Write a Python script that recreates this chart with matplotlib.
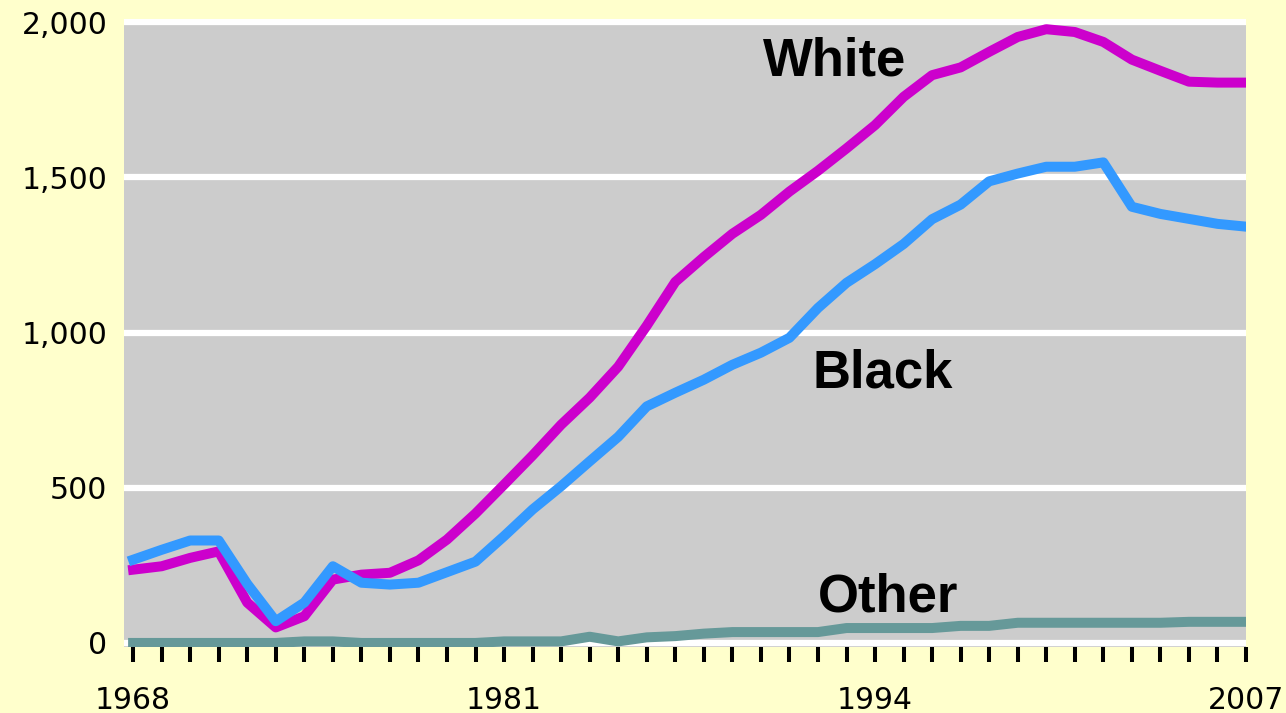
import matplotlib.pyplot as plt
import numpy as np

years = list(range(1968, 2008))

white = [236, 247, 274, 295, 130, 50, 86, 204, 220, 226,
         266, 333, 417, 510, 604, 703, 790, 890, 1022, 1163,
         1243, 1318, 1379, 1454, 1521, 1593, 1668, 1759, 1829, 1854,
         1904, 1952, 1977, 1968, 1936, 1879, 1843, 1808, 1805, 1805]

black = [268, 300, 330, 330, 190, 70, 130, 247, 194, 188,
         194, 228, 262, 344, 430, 505, 585, 664, 762, 806,
         848, 896, 935, 983, 1079, 1160, 1220, 1285, 1365, 1412,
         1487, 1512, 1534, 1534, 1548, 1405, 1382, 1366, 1350, 1341]

other = [0, 0, 0, 0, 0, 0, 5, 5, 0, 0,
         0, 0, 0, 5, 5, 5, 20, 5, 18, 22,
         30, 35, 35, 35, 35, 48, 48, 48, 48, 55,
         55, 65, 65, 65, 65, 65, 65, 68, 68, 68]

series_names = ['White', 'Black', 'Other']
yticks = [0, 500, 1000, 1500, 2000]
ylabels = ['0', '500', '1,000', '1,500', '2,000']
xlabels = {1968: '1968', 1981: '1981', 1994: '1994', 2007: '2007'}

bg = '#FFFFCC'
fig = plt.figure(figsize=(12.86, 7.13), dpi=100, facecolor=bg)
ax = fig.add_axes([0.0964, 0.0926, 0.8725, 0.8808])
ax.set_facecolor('#CCCCCC')

# gridlines under the data
for v in yticks:
    ax.axhline(v, color='white', lw=4.5, zorder=1)

ax.plot(years, other, color='#669999', lw=7.2, solid_capstyle='projecting', zorder=2)
ax.plot(years, white, color='#CC00CC', lw=7.2, solid_capstyle='projecting', zorder=3)
ax.plot(years, black, color='#3399FF', lw=7.2, solid_capstyle='projecting', zorder=4)

ax.set_xlim(1967.68, 2007)
ax.set_ylim(-13, 2010)

for s in ax.spines.values():
    s.set_visible(False)

ax.set_yticks(yticks)
ax.set_yticklabels(ylabels, fontsize=21.5, family='DejaVu Sans')
ax.tick_params(axis='y', length=0, pad=12)

ax.set_xticks(years)
ax.set_xticklabels([xlabels.get(y, '') for y in years], fontsize=21.5, family='DejaVu Sans')
ax.tick_params(axis='x', direction='out', length=11, width=2.9, color='black', pad=17)

lab_x = [1990.07, 1991.8, 1992.0]
lab_y = [1829, 822, 101]
for name, lx, ly in zip(series_names, lab_x, lab_y):
    ax.text(lx, ly, name, fontsize=38, fontweight='bold', family='Liberation Sans',
            ha='left', va='baseline', zorder=5)

fig.savefig('out.png', dpi=100, facecolor=bg)
